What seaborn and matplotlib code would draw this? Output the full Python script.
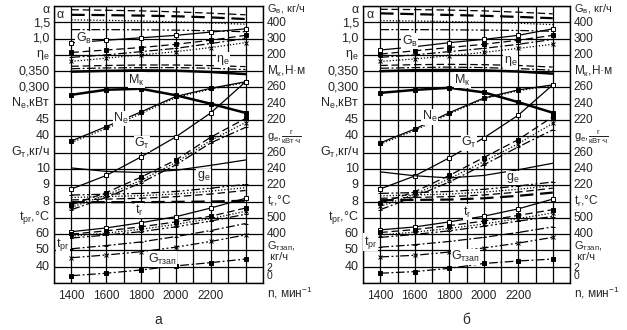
import matplotlib as mpl
import matplotlib.pyplot as plt
import matplotlib.transforms as mtransforms
import seaborn as sns

mpl.use("Agg")
sns.set_style("white")
plt.rcParams["font.family"] = ["Liberation Sans", "DejaVu Sans"]
plt.rcParams["mathtext.fontset"] = "custom"
plt.rcParams["mathtext.rm"] = "Liberation Sans"
plt.rcParams["mathtext.it"] = "Liberation Sans:italic"
plt.rcParams["mathtext.default"] = "regular"

# engine speed, min^-1
RPM = [1400, 1600, 1800, 2000, 2200, 2400]

# values are read in grid rows of the nomogram (0 = bottom line, 17 = top line)
# --- panel a ---
ALPHA1_A = [16.77, 16.74, 16.70, 16.64, 16.56, 16.46]
ALPHA2_A = [16.46, 16.44, 16.41, 16.37, 16.30, 16.20]
ALPHA3_A = [16.15, 16.12, 16.08, 16.03, 15.96, 15.88]
ALPHA4_A = [15.55, 15.55, 15.54, 15.52, 15.48, 15.42]
GV1_A = [14.74, 14.90, 15.05, 15.20, 15.40, 15.60]
GV2_A = [14.15, 14.30, 14.45, 14.65, 14.90, 15.20]
GV3_A = [13.85, 14.00, 14.20, 14.40, 14.70, 15.00]
GV4_A = [13.60, 13.80, 14.00, 14.20, 14.45, 14.75]
ETA1_A = [13.30, 13.35, 13.38, 13.38, 13.34, 13.28]
ETA2_A = [13.15, 13.20, 13.22, 13.22, 13.18, 13.10]
ETA3_A = [12.97, 13.02, 13.05, 13.03, 12.95, 12.82]
MK_A = [11.55, 11.86, 11.92, 11.52, 11.00, 10.44]
NE_A = [8.72, 9.60, 10.50, 11.45, 11.95, 12.35]
NE2_A = [8.62, 9.48, 10.40, 11.38, 11.90, 12.30]
GT_A = [5.77, 6.60, 7.74, 8.97, 10.44, 12.35]
GT2_A = [4.80, 5.55, 6.50, 7.55, 8.95, 10.10]
GT3_A = [4.65, 5.40, 6.30, 7.40, 8.75, 9.85]
GT4_A = [4.50, 5.25, 6.15, 7.25, 8.60, 9.55]
GE_A = [7.06, 6.85, 6.78, 6.92, 7.22, 7.55]
TR1_A = [5.40, 5.45, 5.50, 5.62, 5.82, 6.05]
TR2_A = [5.25, 5.30, 5.36, 5.46, 5.64, 5.85]
TR3_A = [5.10, 5.15, 5.20, 5.30, 5.46, 5.68]
TR4_A = [4.96, 4.96, 4.96, 4.98, 5.00, 5.05]
TM1_A = [3.15, 3.38, 3.70, 4.07, 4.60, 5.20]
TM2_A = [3.00, 3.20, 3.45, 3.75, 4.10, 4.60]
TM3_A = [2.88, 3.06, 3.30, 3.60, 3.95, 4.40]
TM4_A = [2.76, 2.94, 3.15, 3.45, 3.80, 4.22]
TPR1_A = [2.10, 2.30, 2.52, 2.85, 3.22, 3.65]
TPR2_A = [1.55, 1.72, 1.92, 2.20, 2.55, 2.95]
GZ_A = [0.45, 0.60, 0.80, 1.05, 1.25, 1.47]

# --- panel б ---
ALPHA1_B = [16.80, 16.78, 16.75, 16.70, 16.62, 16.52]
ALPHA2_B = [16.55, 16.50, 16.45, 16.40, 16.33, 16.25]
ALPHA3_B = [16.10, 16.08, 16.05, 16.00, 15.94, 15.86]
ALPHA4_B = [15.55, 15.55, 15.54, 15.52, 15.50, 15.45]
GV1_B = [14.30, 14.50, 14.75, 14.95, 15.20, 15.60]
GV2_B = [14.05, 14.25, 14.45, 14.65, 14.90, 15.20]
GV3_B = [13.85, 14.00, 14.20, 14.40, 14.65, 14.95]
GV4_B = [13.60, 13.75, 13.95, 14.15, 14.40, 14.65]
ETA1_B = [13.35, 13.40, 13.42, 13.40, 13.35, 13.25]
ETA2_B = [13.18, 13.22, 13.25, 13.22, 13.16, 13.06]
ETA3_B = [13.00, 13.06, 13.08, 13.05, 12.98, 12.85]
MK_B = [11.67, 11.85, 11.98, 11.70, 11.10, 10.45]
NE_B = [8.60, 9.45, 10.45, 11.35, 11.85, 12.16]
NE2_B = [8.52, 9.36, 10.38, 11.30, 11.80, 12.12]
GT_B = [5.77, 6.57, 7.68, 8.90, 10.30, 12.16]
GT2_B = [4.90, 5.60, 6.60, 7.70, 8.80, 10.20]
GT3_B = [4.70, 5.45, 6.40, 7.45, 8.55, 9.80]
GT4_B = [4.50, 5.30, 6.20, 7.25, 8.35, 9.40]
GE_B = [6.82, 6.58, 6.45, 6.60, 6.95, 7.35]
TR1_B = [5.50, 5.55, 5.62, 5.75, 5.95, 6.20]
TR2_B = [5.35, 5.40, 5.46, 5.58, 5.75, 5.98]
TR3_B = [5.20, 5.25, 5.30, 5.40, 5.58, 5.82]
TR4_B = [5.08, 5.10, 5.12, 5.20, 5.35, 5.55]
TM1_B = [3.26, 3.44, 3.75, 4.10, 4.55, 5.15]
TM2_B = [3.10, 3.28, 3.52, 3.80, 4.15, 4.50]
TM3_B = [2.95, 3.12, 3.35, 3.62, 3.95, 4.30]
TM4_B = [2.80, 2.98, 3.20, 3.48, 3.80, 4.08]
TPR1_B = [2.20, 2.35, 2.55, 2.80, 3.10, 3.44]
TPR2_B = [1.60, 1.70, 1.90, 2.15, 2.45, 2.80]
GZ_B = [0.60, 0.70, 0.90, 1.20, 1.35, 1.47]

# axis texts
X_TICKS = [1400, 1600, 1800, 2000, 2200]
LEFT_TEXT = ["α", "1,5", "1,0", "η$_e$", "0,350", "0,300", "N$_e$,кВт", "45", "40",
             "G$_т$,кг/ч", "10", "9", "8", "t$_{pr}$,°C", "60", "50", "40"]
LEFT_ROWS = [16.75, 15.95, 15, 14, 13, 12, 11, 10, 9, 8, 7, 6, 5, 4, 3, 2, 1]
RIGHT_TEXT = ["G$_в$, кг/ч", "400", "300", "200", "M$_к$,Н·м", "260", "240", "220",
              r"g$_e$,$\frac{г}{кВт·ч}$", "260", "240", "220", "t$_r$,°C", "500", "400",
              "G$_{тзап}$,", " кг/ч", "2", "0"]
RIGHT_ROWS = [16.8, 15.95, 15, 14, 13, 12, 11, 10, 8.95, 8, 7, 6, 5, 4, 3, 2.25, 1.6, 0.95, 0.4]
RIGHT_SIZE = [8] + [8.5] * 7 + [8] + [8.5] * 6 + [8, 8, 7.5, 7.5]

# line styles: (linestyle, linewidth)
LS = {
    "solid": ("-", 0.9),
    "thick": ("-", 1.8),
    "dash": ((0, (6, 3)), 0.9),
    "thickdash": ((0, (6, 3)), 1.6),
    "dashdot": ((0, (7, 2, 1.5, 2)), 0.9),
    "dashdotdot": ((0, (7, 2, 1.5, 2, 1.5, 2)), 0.9),
    "dot": ((0, (1, 1.5)), 0.9),
}
MK = {
    "open": dict(marker="s", markerfacecolor="white"),
    "fill": dict(marker="s", markerfacecolor="black"),
    "x": dict(marker="x"),
    "+": dict(marker="+"),
    None: dict(marker=None),
}


def curves(p):
    g = globals()
    return [
        (g["ALPHA1_" + p], "dash", None),
        (g["ALPHA2_" + p], "thickdash", None),
        (g["ALPHA3_" + p], "dot", None),
        (g["ALPHA4_" + p], "dashdotdot", None),
        (g["GV1_" + p], "solid", "open"),
        (g["GV2_" + p], "dash", "fill"),
        (g["GV3_" + p], "dashdot", "+"),
        (g["GV4_" + p], "dot", "x"),
        (g["ETA1_" + p], "dash", None),
        (g["ETA2_" + p], "dashdot", None),
        (g["ETA3_" + p], "thick", None),
        (g["MK_" + p], "thick", "fill"),
        (g["NE_" + p], "solid", "fill"),
        (g["NE2_" + p], "dot", None),
        (g["GT_" + p], "solid", "open"),
        (g["GT2_" + p], "dash", "fill"),
        (g["GT3_" + p], "dot", "x"),
        (g["GT4_" + p], "dashdot", "+"),
        (g["GE_" + p], "solid", None),
        (g["TR1_" + p], "dashdotdot", "+"),
        (g["TR2_" + p], "dot", None),
        (g["TR3_" + p], "dash", None),
        (g["TR4_" + p], "thickdash", None),
        (g["TM1_" + p], "solid", "open"),
        (g["TM2_" + p], "dash", "fill"),
        (g["TM3_" + p], "dot", "x"),
        (g["TM4_" + p], "dashdotdot", "+"),
        (g["TPR1_" + p], "dashdot", "+"),
        (g["TPR2_" + p], "dashdotdot", "x"),
        (g["GZ_" + p], "dashdot", "fill"),
    ]


# in-plot labels (n, row)
INNER_A = [("α", 1315, 16.45), ("G$_в$", 1425, 15.0), ("η$_e$", 2230, 13.7),
           ("M$_к$", 1725, 12.45), ("N$_e$", 1640, 10.1), ("G$_т$", 1760, 8.55),
           ("g$_e$", 2120, 6.55), ("t$_r$", 1765, 4.45), ("t$_{pr}$", 1312, 2.35),
           ("G$_{т зап}$", 1840, 1.45)]
INNER_B = [("α", 1320, 16.45), ("G$_в$", 1525, 14.85), ("η$_e$", 2115, 13.6),
           ("M$_к$", 1830, 12.45), ("N$_e$", 1640, 10.2), ("G$_т$", 1870, 8.6),
           ("g$_e$", 2130, 6.45), ("t$_r$", 1880, 4.35), ("t$_{pr}$", 1305, 2.5),
           ("G$_{т зап}$", 1810, 1.6)]

fig = plt.figure(figsize=(6.27, 3.30), dpi=100)
ax_a = fig.add_axes([54 / 627, 1 - 283 / 330, 209 / 627, 277 / 330])
ax_b = fig.add_axes([363 / 627, 1 - 283 / 330, 207 / 627, 277 / 330])

for ax, p, inner, tag in [(ax_a, "A", INNER_A, "а"), (ax_b, "B", INNER_B, "б")]:
    for vals, style, mark in curves(p):
        ls, lw = LS[style]
        sns.lineplot(x=RPM, y=vals, ax=ax, color="black", linestyle=ls, linewidth=lw,
                     markersize=3, markeredgecolor="black", markeredgewidth=0.7,
                     **MK[mark])
    ax.set_xlim(1300, 2500)
    ax.set_ylim(0, 17)
    ax.set_xticks(range(1300, 2501, 100))
    ax.set_xticklabels([str(t) if t in X_TICKS else "" for t in range(1300, 2501, 100)],
                       fontsize=8.5)
    ax.set_yticks(range(18))
    ax.set_yticklabels([])
    ax.tick_params(length=0, pad=5)
    ax.grid(True, color="black", linewidth=0.9)
    ax.set_axisbelow(True)
    for sp in ax.spines.values():
        sp.set_color("black")
        sp.set_linewidth(1.0)

    trans = mtransforms.blended_transform_factory(ax.transAxes, ax.transData)
    for txt, r in zip(LEFT_TEXT, LEFT_ROWS):
        ax.text(-0.02, r, txt, transform=trans, ha="right", va="center", fontsize=9)
    for txt, r, fs in zip(RIGHT_TEXT, RIGHT_ROWS, RIGHT_SIZE):
        ax.text(1.017, r, txt, transform=trans, ha="left", va="center", fontsize=fs)
    ax.text(1.02, -0.035, "n, мин$^{-1}$", transform=ax.transAxes, ha="left",
            va="center", fontsize=8.5)
    for txt, n, r in inner:
        ax.text(n, r, txt, ha="left", va="center", fontsize=9,
                bbox=dict(facecolor="white", edgecolor="none", pad=0.3))
    ax.text(0.5, -0.135, tag, transform=ax.transAxes, ha="center", va="center",
            fontsize=10)
    ax.set_xlabel("")
    ax.set_ylabel("")

fig.savefig("out.png", dpi=100)
